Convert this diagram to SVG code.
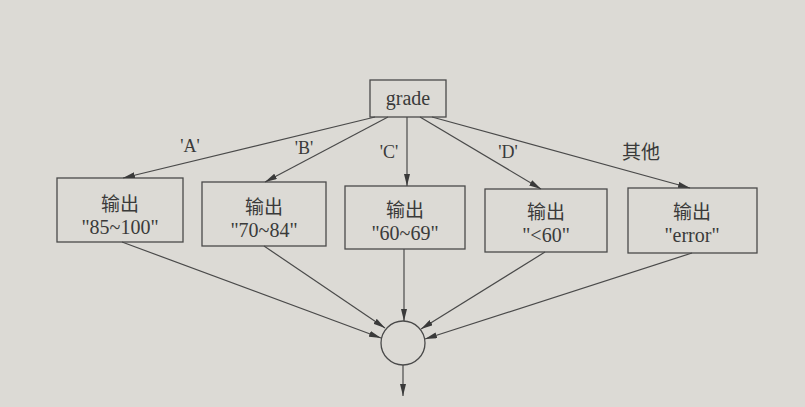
<svg xmlns="http://www.w3.org/2000/svg" width="805" height="407" viewBox="0 0 805 407">
<style>
.bg{fill:#dcdad5}
.box{fill:none;stroke:#4a4a4a;stroke-width:1.3}
.ln{stroke:#4a4a4a;stroke-width:1.2;fill:none;marker-end:url(#ah)}
.t{font-family:"Liberation Serif","Noto Sans CJK SC",serif;font-size:20px;fill:#3a3a3a;text-anchor:middle}
.c{font-family:"Noto Sans CJK SC","Liberation Serif",serif;font-size:19px;fill:#3a3a3a;text-anchor:middle}
.l{font-family:"Liberation Serif","Noto Sans CJK SC",serif;font-size:18px;fill:#3a3a3a;text-anchor:middle}
</style>
<defs>
<marker id="ah" viewBox="0 0 12 6" refX="12" refY="3" markerWidth="12" markerHeight="6" markerUnits="userSpaceOnUse" orient="auto">
<path d="M0,0 L12,3 L0,6 Z" fill="#3a3a3a"/>
</marker>
</defs>
<rect class="bg" x="0" y="0" width="805" height="407"/>
<g id="grade"><rect class="box" x="370" y="80" width="76" height="37"/><text class="t" x="408" y="105">grade</text></g>
<g id="n1"><rect class="box" x="57" y="178" width="126" height="64"/><text class="c" x="120" y="211">输出</text><text class="t" x="120" y="234">"85~100"</text></g>
<g id="n2"><rect class="box" x="202" y="182" width="124" height="64"/><text class="c" x="264" y="214">输出</text><text class="t" x="264" y="237">"70~84"</text></g>
<g id="n3"><rect class="box" x="345" y="186" width="120" height="63"/><text class="c" x="405" y="217">输出</text><text class="t" x="405" y="240">"60~69"</text></g>
<g id="n4"><rect class="box" x="485" y="189" width="122" height="63"/><text class="c" x="546" y="219">输出</text><text class="t" x="546" y="242">"&lt;60"</text></g>
<g id="n5"><rect class="box" x="628" y="188" width="129" height="65"/><text class="c" x="692" y="219">输出</text><text class="t" x="692" y="242">"error"</text></g>
<g id="merge"><circle class="box" cx="403" cy="343" r="22"/></g>
<g id="connectors">
<line class="ln" x1="375" y1="117" x2="123" y2="178"/>
<line class="ln" x1="388" y1="117" x2="265" y2="182"/>
<line class="ln" x1="407" y1="117" x2="407" y2="186"/>
<line class="ln" x1="420" y1="117" x2="541" y2="189"/>
<line class="ln" x1="432" y1="117" x2="690" y2="188"/>
<line class="ln" x1="122" y1="242" x2="381" y2="338"/>
<line class="ln" x1="264" y1="246" x2="385" y2="328"/>
<line class="ln" x1="404" y1="249" x2="404" y2="321"/>
<line class="ln" x1="545" y1="252" x2="421" y2="329"/>
<line class="ln" x1="692" y1="253" x2="425" y2="339"/>
<line class="ln" x1="403" y1="365" x2="403" y2="396"/>
</g>
<g id="labels">
<text class="l" x="190" y="152">'A'</text>
<text class="l" x="304" y="154">'B'</text>
<text class="l" x="389" y="158">'C'</text>
<text class="l" x="508" y="158">'D'</text>
<text class="c" x="641" y="159">其他</text>
</g>
</svg>
